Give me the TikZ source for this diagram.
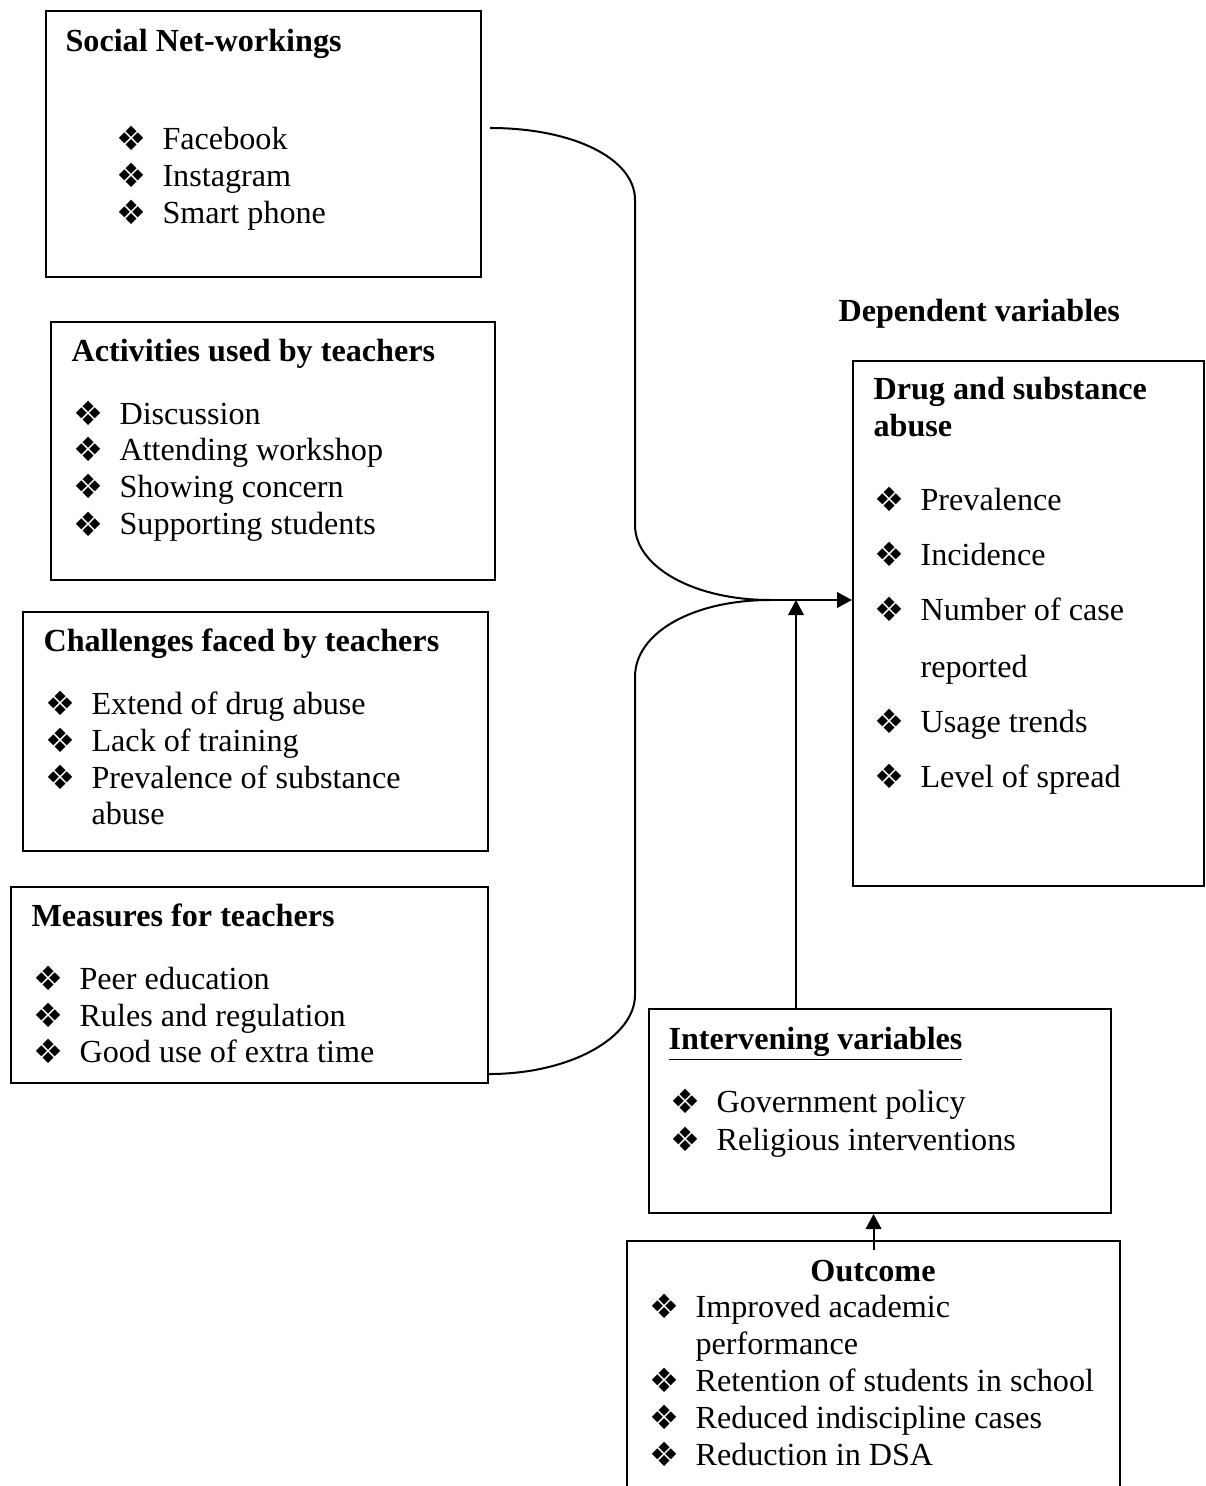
\documentclass[tikz,border=0pt]{standalone}
\usepackage{fontspec}
\setmainfont{Liberation Serif}
\newfontfamily\symfont{DejaVu Sans}
\usetikzlibrary{arrows.meta,calc}
\newcommand\bulsym{{\symfont\fontsize{12.5}{14}\selectfont ❖}}
\newcommand\mkbox[5]{\node[box, minimum width={(#4-#2)*0.3731pt}, minimum height={(#5-#3)*0.3731pt}] (#1) at (#2,#3) {};}
\newcommand\itm[4]{\node[blt] (#1b) at (#2-46,#3+1) {\bulsym}; \node[txt] (#1) at (#2,#3) {#4};}
\begin{document}
\begin{tikzpicture}[x=0.3731pt,y=-0.3731pt,
  box/.style={draw, line width=0.75pt, inner sep=0pt, anchor=north west},
  txt/.style={anchor=base west, inner sep=0pt, font=\fontsize{12}{13.8}\selectfont},
  ttl/.style={txt, font=\bfseries\fontsize{12}{13.8}\selectfont},
  blt/.style={anchor=base west, inner sep=0pt},
  conn/.style={line width=0.75pt},
  arr/.style={conn, -{Triangle[length=5.6pt,width=5.8pt]}}]
\useasboundingbox (0,0) rectangle (1205,1486);

% boxes
\mkbox{soc}{45}{10}{480}{276}
\mkbox{act}{50}{321}{494}{579}
\mkbox{chal}{22}{611}{487}{850}
\mkbox{meas}{10}{886}{487}{1082}
\mkbox{drug}{852}{360}{1203}{885}
\mkbox{interv}{648}{1008}{1110}{1212}
\node[inner sep=0pt, anchor=north west, minimum width={492*0.3731pt}, minimum height={245*0.3731pt}] (outc) at (627,1241) {};
\draw[line width=0.75pt] (outc.south west) -- (outc.north west) -- (outc.north east) -- (outc.south east);

% Social Net-workings
\node[ttl] (socT) at (65,52) {Social Net-workings};
\itm{s1}{162}{150}{Facebook}
\itm{s2}{162}{187}{Instagram}
\itm{s3}{162}{224}{Smart phone}

% Activities
\node[ttl] (actT) at (71,362) {Activities used by teachers};
\itm{a1}{119}{425}{Discussion}
\itm{a2}{119}{461}{Attending workshop}
\itm{a3}{119}{498}{Showing concern}
\itm{a4}{119}{535}{Supporting students}

% Challenges
\node[ttl] (chalT) at (43,651) {Challenges faced by teachers};
\itm{c1}{91}{714}{Extend of drug abuse}
\itm{c2}{91}{751}{Lack of training}
\itm{c3}{91}{788}{Prevalence of substance}
\node[txt] (c3x) at (91,824) {abuse};

% Measures
\node[ttl] (measT) at (31,926) {Measures for teachers};
\itm{m1}{79}{989}{Peer education}
\itm{m2}{79}{1026}{Rules and regulation}
\itm{m3}{79}{1062}{Good use of extra time}

% Dependent
\node[ttl] (depT) at (838,322) {Dependent variables};
\node[ttl] (drugT1) at (873,400) {Drug and substance};
\node[ttl] (drugT2) at (873,437) {abuse};
\itm{d1}{920}{510}{Prevalence}
\itm{d2}{920}{565}{Incidence}
\itm{d3}{920}{620}{Number of case}
\node[txt] (d3x) at (920,677) {reported};
\itm{d4}{920}{732}{Usage trends}
\itm{d5}{920}{787}{Level of spread}

% Intervening
\node[ttl] (intT) at (668,1049) {\underline{Intervening variables}};
\itm{i1}{716}{1112}{Government policy}
\itm{i2}{716}{1150}{Religious interventions}

% Outcome
\node[ttl, anchor=base] (outT) at (873,1281) {Outcome};
\itm{o1}{695}{1317}{Improved academic}
\node[txt] (o1x) at (695,1354) {performance};
\itm{o2}{695}{1391}{Retention of students in school}
\itm{o3}{695}{1428}{Reduced indiscipline cases}
\itm{o4}{695}{1465}{Reduction in DSA}

% connectors
\coordinate (j) at (770,600);
\coordinate (k) at (796,600);
\draw[conn] ($(soc.north east)+(8,118)$) .. controls +(82,0) and +(0,-42) .. (635,200)
  -- (635,525) .. controls +(0,42) and +(-76,0) .. (j);
\draw[conn] ($(meas.south east)+(0,-10)$) .. controls +(82,0) and +(0,42) .. (635,995)
  -- (635,677) .. controls +(0,-45) and +(-76,0) .. (j);
\draw[arr] (j) -- (drug.west |- j);
\draw[arr] (interv.north -| k) -- (k);
\draw[arr] ($(outc.north)+(0,9)$) -- (interv.south -| outc.north);
\end{tikzpicture}
\end{document}
